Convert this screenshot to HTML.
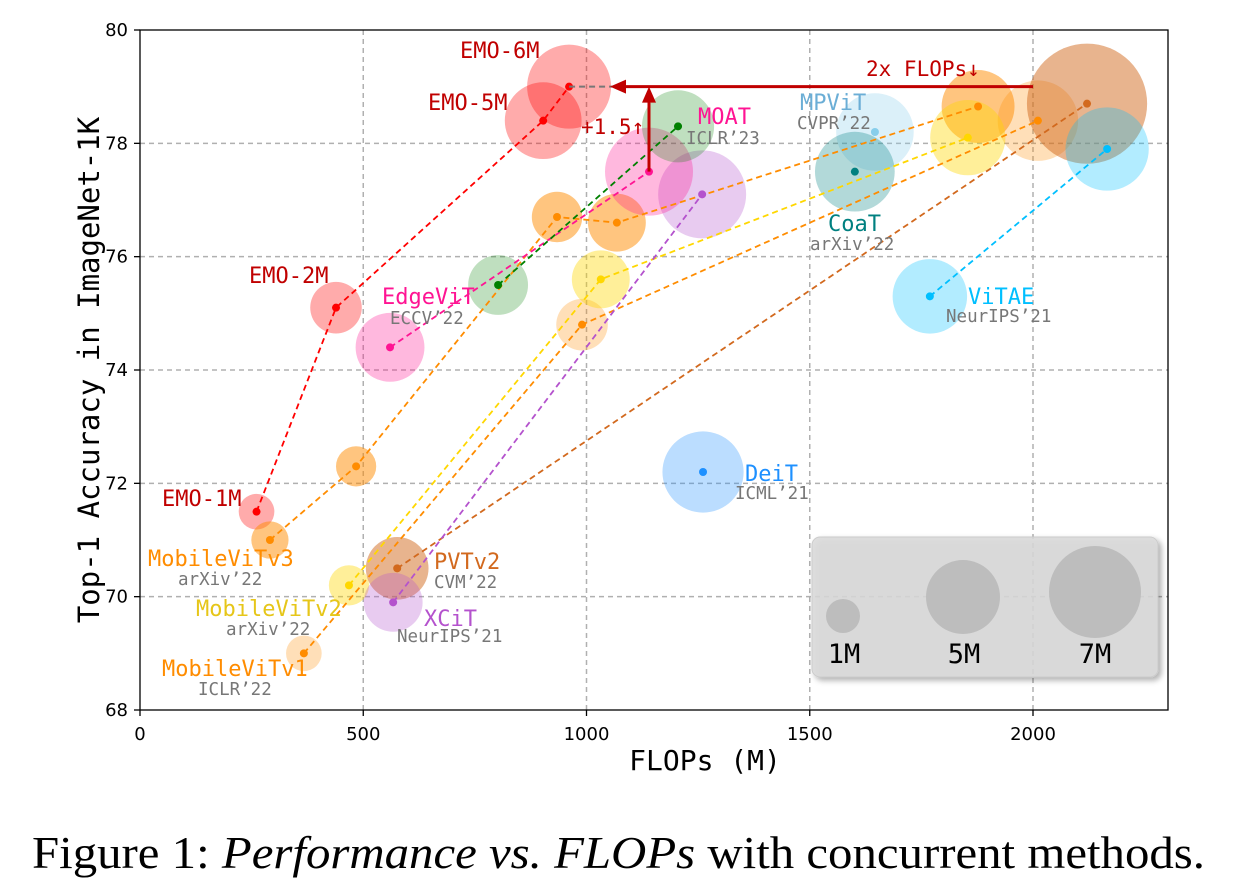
<!DOCTYPE html>
<html><head><meta charset="utf-8"><style>
body{margin:0;background:#fff;}
svg text{font-family:"DejaVu Sans Mono","Liberation Mono",monospace;}
</style></head><body>
<svg id="chart" width="1236" height="889" viewBox="0 0 1236 889" xmlns="http://www.w3.org/2000/svg">
<defs><filter id="sh" x="-10%" y="-10%" width="130%" height="130%"><feDropShadow dx="3" dy="3" stdDeviation="3" flood-color="#000" flood-opacity="0.35"/></filter></defs>
<g id="grid"></g>
<g id="bubbles"></g>
<g id="lines"></g>
<g id="annot"></g>
<g id="labels"></g>
<g id="axes"></g>
<g>
<rect x="812" y="537" width="346" height="140" rx="8" fill="#d9d9d9" fill-opacity="0.85" stroke="#ccc" filter="url(#sh)"/>
<circle cx="843" cy="616" r="17" fill="#bdbdbd"/>
<circle cx="963" cy="597" r="37" fill="#bdbdbd"/>
<circle cx="1095" cy="592" r="46" fill="#bdbdbd"/>
<text x="844" y="663" font-size="27" text-anchor="middle">1M</text>
<text x="964" y="663" font-size="27" text-anchor="middle">5M</text>
<text x="1095" y="663" font-size="27" text-anchor="middle">7M</text>
</g>
<text x="32" y="868" font-size="46" textLength="1173" lengthAdjust="spacingAndGlyphs" style="font-family:'Liberation Serif',serif">Figure 1: <tspan font-style="italic">Performance vs. FLOPs</tspan> with concurrent methods.</text>
</svg>
<script>
const xTicks=[0,500,1000,1500,2000];
const yTicks=[68,70,72,74,76,78,80];
const seriesNames=['EMO','MobileViTv3','MobileViTv1','MobileViTv2','PVTv2','XCiT','EdgeViT','MOAT','MPViT','CoaT','DeiT','ViTAE'];
const seriesColors=['#ff0000','#ff8c00','#ff8c00','#ffd700','#d2691e','#b452cd','#ff1493','#008000','#87ceeb','#008080','#1e90ff','#00bfff'];
const bubbleOpacity=[0.33,0.5,0.28,0.4,0.5,0.3,0.3,0.25,0.3,0.3,0.3,0.3];
const flops=[[261,439,903,961],[291,484,934,1068,1877],[367,990,2011],[468,1032,1854],[576,2121],[567,1259],[560,1140],[802,1205],[1646],[1601],[1261],[1769,2166]];
const acc=[[71.5,75.1,78.4,79.0],[71.0,72.3,76.7,76.6,78.65],[69.0,74.8,78.4],[70.2,75.6,78.1],[70.5,78.7],[69.9,77.1],[74.4,77.5],[75.5,78.3],[78.2],[77.5],[72.2],[75.3,77.9]];
const params=[[1.1,2.3,5.1,6.1],[1.2,1.4,2.2,2.9,4.6],[1.1,2.3,5.6],[1.4,2.9,4.9],[3.4,12.5],[3.0,6.7],[4.1,6.7],[3.1,4.5],[5.2],[5.5],[5.7],[4.8,6.0]];
const X0=140,X1=1168,Y0=710,Y1=30;
const xs=v=>X0+v*0.4465;
const ys=v=>Y0-(v-68)*(Y0-Y1)/12;
const rs=p=>17*Math.sqrt(p);
const NS='http://www.w3.org/2000/svg';
function mk(tag,attrs,parent,txt){const e=document.createElementNS(NS,tag);for(const k in attrs)e.setAttribute(k,attrs[k]);if(txt!==undefined)e.textContent=txt;parent.appendChild(e);return e;}
const grid=document.getElementById('grid'),axes=document.getElementById('axes');
xTicks.forEach(t=>{
  if(t>0){const l=mk('line',{x1:xs(t),x2:xs(t),y1:Y1,y2:Y0,stroke:'#b0b0b0','stroke-dasharray':'5,4','stroke-width':1.5},grid);
  
  }
  const tl=mk('line',{x1:xs(t),x2:xs(t),y1:Y0,y2:Y0+6,stroke:'#000','stroke-width':1.3},axes);
  
  
  const tx=mk('text',{x:xs(t),y:Y0+30,'font-size':18,'text-anchor':'middle',style:'font-family:"DejaVu Sans",sans-serif'},axes,String(t));
  
  
});
yTicks.forEach(t=>{
  if(t>68&&t<80){const l=mk('line',{x1:X0,x2:X1,y1:ys(t),y2:ys(t),stroke:'#b0b0b0','stroke-dasharray':'5,4','stroke-width':1.5},grid);
  
  }
  const tl=mk('line',{x1:X0-6,x2:X0,y1:ys(t),y2:ys(t),stroke:'#000','stroke-width':1.3},axes);
  
  
  const tx=mk('text',{x:X0-12,y:ys(t)+6,'font-size':18,'text-anchor':'end',style:'font-family:"DejaVu Sans",sans-serif'},axes,String(t));
  
  
});
const frame=mk('rect',{x:X0,y:Y1,width:X1-X0,height:Y0-Y1,fill:'none',stroke:'#000','stroke-width':1.3},axes);


const xt=mk('text',{x:705,y:770,'font-size':28,'text-anchor':'middle'},axes,'FLOPs (M)');


const yt=mk('text',{x:0,y:0,'font-size':29,'text-anchor':'middle',transform:'translate(99,370) rotate(-90)'},axes,'Top-1 Accuracy in ImageNet-1K');


const bub=document.getElementById('bubbles'),lines=document.getElementById('lines');
seriesNames.forEach((n,i)=>{
  flops[i].forEach((f,j)=>{
    const c=mk('circle',{cx:xs(f),cy:ys(acc[i][j]),r:rs(params[i][j]),fill:seriesColors[i],'fill-opacity':bubbleOpacity[i]},bub);
    
    
  });
});
seriesNames.forEach((n,i)=>{
  const pts=flops[i].map((f,j)=>xs(f)+','+ys(acc[i][j])).join(' ');
  if(flops[i].length>1){const p=mk('polyline',{points:pts,fill:'none',stroke:seriesColors[i],'stroke-width':1.8,'stroke-dasharray':'6,4'},lines);
  
  }
  flops[i].forEach((f,j)=>{
    const d=mk('circle',{cx:xs(f),cy:ys(acc[i][j]),r:4,fill:seriesColors[i]},lines);
    
    
  });
});
const an=document.getElementById('annot');
const g1=mk('line',{x1:xs(961),x2:612,y1:ys(79),y2:ys(79),stroke:'#777','stroke-width':2,'stroke-dasharray':'6,4'},an);


const h=mk('line',{x1:1033,x2:622,y1:ys(79),y2:ys(79),stroke:'#c00000','stroke-width':3},an);


const hh=mk('polygon',{points:`610,${ys(79)} 626,${ys(79)-7} 626,${ys(79)+7}`,fill:'#c00000'},an);


const v=mk('line',{x1:649,x2:649,y1:ys(77.5),y2:ys(79)+14,stroke:'#c00000','stroke-width':3},an);


const vh=mk('polygon',{points:`649,${ys(79)} 642,${ys(79)+16} 656,${ys(79)+16}`,fill:'#c00000'},an);


const a1=mk('text',{x:866,y:76,'font-size':21,fill:'#c00000'},an,'2x FLOPs↓');


const a2=mk('text',{x:581,y:134,'font-size':21,fill:'#c00000'},an,'+1.5↑');


const labelTexts=['EMO-1M','EMO-2M','EMO-5M','EMO-6M','EdgeViT','ECCV’22','MOAT','ICLR’23','MPViT','CVPR’22','CoaT','arXiv’22','ViTAE','NeurIPS’21','DeiT','ICML’21','PVTv2','CVM’22','XCiT','NeurIPS’21','MobileViTv3','arXiv’22','MobileViTv2','arXiv’22','MobileViTv1','ICLR’22'];
const labelColors=['#c00000','#c00000','#c00000','#c00000','#ff1493','#777','#ff1493','#777','#6baed6','#777','#008080','#777','#00bfff','#777','#1e90ff','#777','#d2691e','#777','#b452cd','#777','#ff8c00','#777','#e6c619','#777','#ff8c00','#777'];
const lp=[[162,506],[249,283],[428,110],[460,58],[382,304],[390,324],[698,124],[686,144],[800,110],[797,129],[828,231],[810,250],[968,304],[946,322],[745,481],[735,499],[434,569],[434,588],[424,626],[397,642],[148,566],[178,585],[196,616],[226,635],[162,676],[198,695]];
const lg=document.getElementById('labels');
labelTexts.forEach((t,i)=>{
  const venue=labelColors[i]==='#777';
  const e=mk('text',{x:lp[i][0],y:lp[i][1],'font-size':venue?17.5:22,fill:labelColors[i]},lg,t);
  
  
});
</script>
</body></html>
